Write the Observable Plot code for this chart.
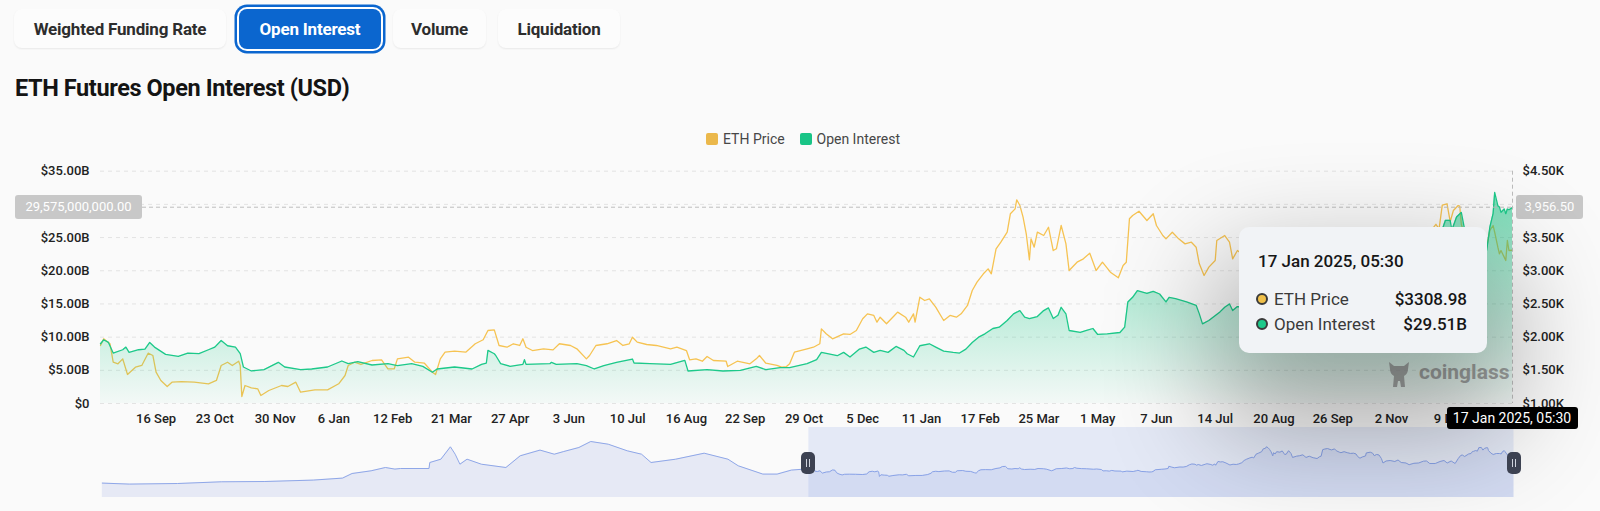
<!DOCTYPE html>
<html>
<head>
<meta charset="utf-8">
<script src="https://cdn.jsdelivr.net/npm/d3@7"></script>
<script src="https://cdn.jsdelivr.net/npm/@observablehq/plot@0.6"></script>
<style>
  html, body { margin:0; padding:0; background:#fafafa; }
  body { width:1600px; height:511px; overflow:hidden; position:relative; font-family: Roboto, "Noto Sans", sans-serif; }
  .tab { position:absolute; top:9px; height:39px; border-radius:8px; background:#fcfcfc; box-shadow:0 1px 2px rgba(0,0,0,0.07); font-weight:700; font-size:17px; letter-spacing:-0.2px; color:#2d2d2d; display:flex; align-items:center; justify-content:center; white-space:nowrap; }
  .tab.active { background:#0b66cf; color:#fff; height:40px; box-shadow:0 0 0 2px #fff, 0 0 0 4.5px #0b66cf; }
  #title { position:absolute; left:15px; top:73px; font-size:23.5px; font-weight:700; color:#141414; letter-spacing:-0.4px; line-height:30px; white-space:nowrap; }
  .legtxt { position:absolute; top:130px; font-size:14px; color:#474747; line-height:18px; white-space:nowrap; }
  .sw { position:absolute; top:133px; width:12px; height:12px; border-radius:2px; }
  #main { position:absolute; left:0; top:140px; }
  #slider { position:absolute; left:0; top:427px; }
  #main svg text { font-weight:500; }
  .crossLabel { position:absolute; height:24px; line-height:24px; background:#c8c8c8; color:#fff; font-size:13px; border-radius:3px; text-align:center; }
  #dateBox { position:absolute; height:22px; line-height:22px; background:#000; color:#fff; font-size:14px; border-radius:3px; text-align:center; white-space:nowrap; }
  #tooltip { position:absolute; left:1239px; top:227px; width:248px; height:126px; background:#f1f3f6; border-radius:10px; box-shadow: 0 55px 110px 25px rgba(0,0,0,0.30); }
  #tooltip .t { position:absolute; white-space:nowrap; font-size:17px; line-height:20px; }
  .dot { position:absolute; width:8px; height:8px; border-radius:50%; border:2px solid #3a3a3a; }
  .handle { position:absolute; top:452px; width:14px; height:22px; border-radius:5px; background:#3d4252; }
  .handle::before, .handle::after { content:""; position:absolute; top:7px; width:1px; height:8px; background:#cfd3dd; }
  .handle::before { left:5px; } .handle::after { left:8px; }
  #wm { position:absolute; left:1386px; top:358px; white-space:nowrap; }
</style>
</head>
<body>
<div class="tab" style="left:14px;width:212px;">Weighted Funding Rate</div>
<div class="tab active" style="left:239px;width:142px;">Open Interest</div>
<div class="tab" style="left:393px;width:93px;">Volume</div>
<div class="tab" style="left:498px;width:122px;">Liquidation</div>
<div id="title">ETH Futures Open Interest (USD)</div>
<div class="sw" style="left:706px;background:#ebb84b;"></div>
<div class="legtxt" style="left:723px;">ETH Price</div>
<div class="sw" style="left:799.5px;background:#19c486;"></div>
<div class="legtxt" style="left:816.5px;">Open Interest</div>
<div id="main"></div>
<div id="slider"></div>
<script>
// ---------- data ----------
const xStart = "2022-08-12";
const xEnd = "2025-01-17T05:30";
const sliderStart = "2020-03-04";
const leftTicks = [0, 5, 10, 15, 20, 25, 30, 35];           // $B
const rightTicks = [1000, 1500, 2000, 2500, 3000, 3500, 4000, 4500]; // $
const xTicks = ["2022-09-16","2022-10-23","2022-11-30","2023-01-06","2023-02-12","2023-03-21","2023-04-27","2023-06-03","2023-07-10","2023-08-16","2023-09-22","2023-10-29","2023-12-05","2024-01-11","2024-02-17","2024-03-25","2024-05-01","2024-06-07","2024-07-14","2024-08-20","2024-09-26","2024-11-02","2024-12-09"];
const crossOI = 29.575;       // $B at crosshair
const crossPrice = 3956.50;   // $ at crosshair

const ethPrice = [["2022-08-12",1874],["2022-08-14",1975],["2022-08-18",1900],["2022-08-20",1622],["2022-08-23",1598],["2022-08-26",1673],["2022-08-29",1437],["2022-09-03",1547],["2022-09-07",1573],["2022-09-11",1758],["2022-09-14",1723],["2022-09-16",1472],["2022-09-19",1347],["2022-09-23",1256],["2022-09-26",1321],["2022-10-02",1331],["2022-10-10",1321],["2022-10-19",1297],["2022-10-24",1347],["2022-10-27",1573],["2022-10-31",1622],["2022-11-03",1573],["2022-11-07",1637],["2022-11-08",1573],["2022-11-09",1105],["2022-11-11",1271],["2022-11-15",1236],["2022-11-19",1221],["2022-11-21",1120],["2022-11-26",1196],["2022-12-04",1271],["2022-12-08",1256],["2022-12-13",1321],["2022-12-16",1170],["2022-12-25",1206],["2023-01-02",1206],["2023-01-09",1297],["2023-01-13",1422],["2023-01-15",1573],["2023-01-19",1622],["2023-01-23",1588],["2023-01-30",1648],["2023-02-05",1658],["2023-02-09",1523],["2023-02-13",1523],["2023-02-15",1673],["2023-02-22",1698],["2023-02-26",1622],["2023-03-04",1607],["2023-03-09",1472],["2023-03-11",1437],["2023-03-14",1673],["2023-03-17",1773],["2023-03-23",1788],["2023-03-30",1773],["2023-04-05",1900],["2023-04-10",1960],["2023-04-13",2100],["2023-04-17",2110],["2023-04-20",1874],["2023-04-25",1848],["2023-04-29",1900],["2023-05-03",1874],["2023-05-05",1975],["2023-05-07",1848],["2023-05-11",1798],["2023-05-18",1824],["2023-05-24",1808],["2023-05-28",1900],["2023-06-04",1874],["2023-06-08",1824],["2023-06-14",1673],["2023-06-16",1723],["2023-06-20",1874],["2023-06-27",1900],["2023-07-03",1949],["2023-07-07",1874],["2023-07-11",1900],["2023-07-13",1999],["2023-07-16",1924],["2023-07-22",1889],["2023-07-28",1874],["2023-08-06",1824],["2023-08-10",1848],["2023-08-16",1798],["2023-08-18",1658],["2023-08-22",1673],["2023-08-26",1637],["2023-08-29",1708],["2023-09-02",1648],["2023-09-10",1637],["2023-09-11",1557],["2023-09-17",1637],["2023-09-25",1598],["2023-09-29",1673],["2023-10-01",1723],["2023-10-05",1607],["2023-10-12",1573],["2023-10-15",1547],["2023-10-18",1557],["2023-10-20",1598],["2023-10-23",1773],["2023-10-31",1824],["2023-11-04",1848],["2023-11-08",1900],["2023-11-09",2125],["2023-11-12",2050],["2023-11-16",1975],["2023-11-23",2050],["2023-11-27",2040],["2023-12-01",2100],["2023-12-05",2276],["2023-12-08",2351],["2023-12-12",2326],["2023-12-14",2225],["2023-12-16",2300],["2023-12-20",2201],["2023-12-25",2326],["2023-12-27",2376],["2024-01-01",2300],["2024-01-03",2225],["2024-01-06",2351],["2024-01-07",2225],["2024-01-10",2602],["2024-01-13",2552],["2024-01-16",2577],["2024-01-20",2451],["2024-01-25",2251],["2024-01-29",2326],["2024-02-02",2300],["2024-02-05",2351],["2024-02-09",2477],["2024-02-12",2703],["2024-02-15",2828],["2024-02-19",2954],["2024-02-22",3029],["2024-02-24",2954],["2024-02-27",3331],["2024-03-01",3430],["2024-03-05",3581],["2024-03-07",3858],["2024-03-10",3933],["2024-03-11",4069],["2024-03-13",3983],["2024-03-15",3807],["2024-03-17",3557],["2024-03-19",3165],["2024-03-20",3481],["2024-03-22",3355],["2024-03-24",3581],["2024-03-28",3531],["2024-03-31",3656],["2024-04-03",3305],["2024-04-05",3331],["2024-04-08",3682],["2024-04-11",3405],["2024-04-13",3004],["2024-04-18",3129],["2024-04-22",3180],["2024-04-26",3265],["2024-04-30",3004],["2024-05-04",3129],["2024-05-09",2978],["2024-05-14",2894],["2024-05-17",3079],["2024-05-19",3129],["2024-05-21",3783],["2024-05-23",3833],["2024-05-27",3897],["2024-06-01",3757],["2024-06-05",3858],["2024-06-07",3682],["2024-06-11",3531],["2024-06-13",3481],["2024-06-17",3581],["2024-06-21",3481],["2024-06-25",3405],["2024-06-29",3430],["2024-07-02",3355],["2024-07-04",3104],["2024-07-07",2929],["2024-07-10",3054],["2024-07-14",3154],["2024-07-15",3456],["2024-07-20",3531],["2024-07-23",3430],["2024-07-25",3180],["2024-07-28",3305],["2024-07-31",3250],["2024-08-03",2900],["2024-08-05",2450],["2024-08-09",2650],["2024-08-14",2700],["2024-08-20",2600],["2024-08-24",2750],["2024-08-28",2500],["2024-09-03",2450],["2024-09-07",2280],["2024-09-13",2420],["2024-09-19",2450],["2024-09-25",2630],["2024-09-29",2650],["2024-10-03",2400],["2024-10-10",2400],["2024-10-16",2600],["2024-10-21",2700],["2024-10-25",2450],["2024-10-30",2650],["2024-11-04",2400],["2024-11-08",2900],["2024-11-11",3200],["2024-11-13",3250],["2024-11-16",3100],["2024-11-21",3350],["2024-11-24",3400],["2024-11-26",3607],["2024-11-27",3607],["2024-11-30",3700],["2024-12-02",3631],["2024-12-04",3990],["2024-12-07",4009],["2024-12-09",3740],["2024-12-11",3908],["2024-12-14",3983],["2024-12-15",3975],["2024-12-16",3700],["2024-12-19",3450],["2024-12-22",3300],["2024-12-26",3400],["2024-12-30",3400],["2025-01-01",3355],["2025-01-03",3607],["2025-01-05",3682],["2025-01-06",3581],["2025-01-08",3355],["2025-01-09",3255],["2025-01-10",3305],["2025-01-12",3205],["2025-01-13",3155],["2025-01-14",3456],["2025-01-15",3305],["2025-01-17T05:30",3308.98]];

const openInterest = [["2022-08-12",9.0],["2022-08-14",9.6],["2022-08-17",9.2],["2022-08-20",7.6],["2022-08-26",8.1],["2022-08-28",8.5],["2022-08-30",7.7],["2022-09-05",8.1],["2022-09-09",8.2],["2022-09-12",9.2],["2022-09-15",8.5],["2022-09-22",7.4],["2022-09-30",7.1],["2022-10-06",7.6],["2022-10-13",7.5],["2022-10-19",8.1],["2022-10-23",8.5],["2022-10-27",9.5],["2022-10-31",8.7],["2022-11-05",8.5],["2022-11-08",7.5],["2022-11-10",5.5],["2022-11-15",4.9],["2022-11-23",5.1],["2022-12-02",6.2],["2022-12-06",5.5],["2022-12-16",5.1],["2022-12-23",5.2],["2023-01-02",5.5],["2023-01-11",6.4],["2023-01-15",6.0],["2023-01-21",6.3],["2023-01-30",5.8],["2023-02-09",6.0],["2023-02-15",5.7],["2023-02-24",6.0],["2023-03-03",5.6],["2023-03-09",4.7],["2023-03-12",5.2],["2023-03-23",5.5],["2023-04-03",5.2],["2023-04-09",5.9],["2023-04-12",6.1],["2023-04-13",8.0],["2023-04-17",7.5],["2023-04-18",7.2],["2023-04-21",6.0],["2023-04-27",5.6],["2023-05-05",5.9],["2023-05-06",6.6],["2023-05-07",5.9],["2023-05-22",6.0],["2023-05-23",6.2],["2023-05-26",5.9],["2023-06-08",6.0],["2023-06-14",5.7],["2023-06-19",5.2],["2023-06-25",5.7],["2023-07-03",6.2],["2023-07-13",6.7],["2023-07-14",6.1],["2023-07-24",6.0],["2023-08-06",5.9],["2023-08-15",6.5],["2023-08-17",4.9],["2023-08-29",5.1],["2023-09-08",4.9],["2023-09-19",5.0],["2023-09-29",5.6],["2023-10-05",5.1],["2023-10-14",5.4],["2023-10-20",5.4],["2023-10-31",6.0],["2023-11-06",6.6],["2023-11-09",7.7],["2023-11-19",7.2],["2023-11-23",7.7],["2023-11-27",7.0],["2023-12-03",8.2],["2023-12-07",8.5],["2023-12-12",7.7],["2023-12-16",8.0],["2023-12-21",7.7],["2023-12-26",8.6],["2023-12-31",8.0],["2024-01-02",7.5],["2024-01-06",7.0],["2024-01-10",8.7],["2024-01-16",9.0],["2024-01-20",8.5],["2024-01-25",7.9],["2024-01-31",7.7],["2024-02-04",7.6],["2024-02-08",8.2],["2024-02-12",9.2],["2024-02-16",10.0],["2024-02-20",10.5],["2024-02-25",11.3],["2024-02-29",11.5],["2024-03-05",12.5],["2024-03-09",13.5],["2024-03-13",14.0],["2024-03-16",13.0],["2024-03-19",12.8],["2024-03-24",13.1],["2024-03-28",14.0],["2024-03-31",14.4],["2024-04-03",12.8],["2024-04-06",13.3],["2024-04-08",14.5],["2024-04-11",13.5],["2024-04-13",11.0],["2024-04-20",10.7],["2024-04-24",11.0],["2024-04-28",11.3],["2024-05-01",10.4],["2024-05-07",10.5],["2024-05-15",10.7],["2024-05-18",11.5],["2024-05-20",15.3],["2024-05-23",16.0],["2024-05-26",17.0],["2024-06-01",16.6],["2024-06-05",16.9],["2024-06-09",16.5],["2024-06-13",15.3],["2024-06-15",16.0],["2024-06-19",15.8],["2024-06-26",15.3],["2024-07-02",14.8],["2024-07-04",13.5],["2024-07-06",12.0],["2024-07-10",12.5],["2024-07-17",13.8],["2024-07-20",14.5],["2024-07-23",15.0],["2024-07-25",14.0],["2024-07-28",14.6],["2024-07-31",14.5],["2024-08-05",11.5],["2024-08-10",12.5],["2024-08-20",12.8],["2024-08-25",13.5],["2024-09-05",12.5],["2024-09-15",13.0],["2024-09-25",14.5],["2024-10-05",13.5],["2024-10-15",15.0],["2024-10-25",15.5],["2024-11-05",15.5],["2024-11-10",19.0],["2024-11-15",20.5],["2024-11-22",22.0],["2024-11-28",24.0],["2024-12-03",25.5],["2024-12-06",27.6],["2024-12-09",27.6],["2024-12-10",26.1],["2024-12-13",28.1],["2024-12-16",28.8],["2024-12-18",26.3],["2024-12-20",24.5],["2024-12-23",23.5],["2024-12-27",23.0],["2024-12-30",22.8],["2025-01-01",23.1],["2025-01-03",26.6],["2025-01-05",28.6],["2025-01-06",31.8],["2025-01-08",29.8],["2025-01-09",29.6],["2025-01-10",28.8],["2025-01-12",29.3],["2025-01-13",28.6],["2025-01-14",29.3],["2025-01-15",29.2],["2025-01-17T05:30",29.51]];

// ETH price history shown in the range slider before the selected window
const sliderHistory = [["2020-03-04",440],["2020-04-07",340],["2020-06-07",400],["2020-08-01",570],["2020-09-25",600],["2020-11-25",740],["2021-01-01",940],["2021-01-13",1400],["2021-02-06",1670],["2021-02-24",2000],["2021-03-08",1840],["2021-03-15",1900],["2021-04-20",1900],["2021-04-21",2500],["2021-05-05",2830],["2021-05-17",4070],["2021-05-23",3330],["2021-05-29",2330],["2021-06-07",2830],["2021-06-25",2330],["2021-07-26",2000],["2021-08-13",3170],["2021-09-07",3740],["2021-09-25",3330],["2021-10-07",3600],["2021-10-26",4000],["2021-11-10",4600],["2021-12-02",4330],["2021-12-26",3670],["2022-01-13",3330],["2022-01-25",2500],["2022-02-25",2830],["2022-04-02",3430],["2022-05-02",2830],["2022-05-15",2170],["2022-06-15",1340],["2022-07-03",1340],["2022-07-21",1740]];

// ---------- helpers ----------
const parseT = s => new Date(s.length > 10 ? s + ":00Z" : s + "T00:00:00Z");
const oiMax = 35, pMin = 1000, pMax = 4500;
const toLeft = p => (p - pMin) / (pMax - pMin) * oiMax;
const fromLeft = v => pMin + v / oiMax * (pMax - pMin);
const price = ethPrice.map(([d, v]) => ({date: parseT(d), v}));
const oi = openInterest.map(([d, v]) => ({date: parseT(d), v}));
// tick labels hidden by the crosshair value labels in the picture
const leftLabelTicks = leftTicks.filter(v => Math.abs(v - crossOI) > 2);
const rightLabelTicks = rightTicks.filter(p => Math.abs(p - crossPrice) > 200);

const H = 290, mt = 30.7, mb = 27, ml = 100, mr = 88, TOP = 140;
const gradDefs = () => {
  const ns = "http://www.w3.org/2000/svg";
  const defs = document.createElementNS(ns, "defs");
  defs.innerHTML = `<linearGradient id="oiGrad" gradientUnits="userSpaceOnUse" x1="0" x2="0" y1="${mt}" y2="${H - mb}">
    <stop offset="0" stop-color="#16c784" stop-opacity="0.62"/>
    <stop offset="1" stop-color="#16c784" stop-opacity="0.03"/></linearGradient>`;
  return defs;
};

const chart = Plot.plot({
  width: 1600, height: H, marginTop: mt, marginBottom: mb, marginLeft: ml, marginRight: mr,
  style: {background: "transparent", fontFamily: "Roboto, sans-serif", fontSize: "13px", color: "#222", overflow: "visible"},
  x: {type: "utc", domain: [parseT(xStart), parseT(xEnd)]},
  y: {domain: [0, oiMax]},
  marks: [
    gradDefs,
    Plot.ruleY(leftTicks, {stroke: "#e3e3e3", strokeDasharray: "4,4"}),
    Plot.lineY(price, {x: "date", y: d => toLeft(d.v), stroke: "#f6c352", strokeWidth: 1.3}),
    Plot.areaY(oi, {x: "date", y: "v", fill: "url(#oiGrad)"}),
    Plot.lineY(oi, {x: "date", y: "v", stroke: "#1dc98a", strokeWidth: 1.3}),
    Plot.ruleY([crossOI], {stroke: "#bdbdbd", strokeDasharray: "4,3"}),
    Plot.ruleX([parseT(xEnd)], {stroke: "#bdbdbd", strokeDasharray: "4,3"}),
    Plot.axisY({ticks: leftLabelTicks, tickSize: 0, tickPadding: 11, label: null,
      tickFormat: v => v === 0 ? "$0" : "$" + v.toFixed(2) + "B"}),
    Plot.axisY({anchor: "right", ticks: rightLabelTicks.map(toLeft), tickSize: 0, tickPadding: 10, label: null,
      tickFormat: v => "$" + (fromLeft(v) / 1000).toFixed(2) + "K"}),
    Plot.axisX({ticks: xTicks.map(parseT), tickSize: 0, tickPadding: 10, label: null,
      tickFormat: d3.utcFormat("%-d %b")})
  ]
});
document.getElementById("main").appendChild(chart);

const sliderData = sliderHistory.concat(ethPrice).map(([d, v]) => ({date: parseT(d), v}));
const sl = Plot.plot({
  width: 1600, height: 70, marginTop: 0, marginBottom: 0, marginLeft: 101.8, marginRight: 86.5,
  style: {background: "transparent"},
  x: {type: "utc", domain: [parseT(sliderStart), parseT(xEnd)], axis: null},
  y: {domain: [-1000, 6000], axis: null},
  marks: [
    Plot.areaY(sliderData, {x: "date", y1: () => -1000, y2: "v", fill: "#e6e9f5"}),
    Plot.lineY(sliderData, {x: "date", y: "v", stroke: "#8fa7e8", strokeWidth: 1}),
    Plot.rect([{a: parseT(xStart), b: parseT(xEnd), lo: -1000, hi: 6000}],
      {x1: "a", x2: "b", y1: "lo", y2: "hi", fill: "#6b8de6", fillOpacity: 0.15})
  ]
});
document.getElementById("slider").appendChild(sl);

// ---------- overlays positioned with the plot scales ----------
const xs = chart.scale("x"), ys = chart.scale("y");
const crossY = TOP + ys.apply(crossOI);
const crossX = xs.apply(parseT(xEnd));
const add = (html) => { const t = document.createElement("template"); t.innerHTML = html.trim(); const el = t.content.firstChild; document.body.appendChild(el); return el; };

add(`<div class="crossLabel" style="left:15px;width:127px;top:${crossY - 12}px;">${d3.format(",.2f")(crossOI * 1e9)}</div>`);
add(`<div class="crossLabel" style="left:1516px;width:67px;top:${crossY - 12}px;">${d3.format(",.2f")(crossPrice)}</div>`);

// watermark
add(`<div id="wm"><svg width="26" height="30" viewBox="0 0 26 30" style="position:absolute;left:0;top:1px;">
  <g fill="#8d8d8d" opacity="0.75">
    <path d="M3 3 L8 7 L18 7 L23 3 L22 10 Q22 15 18 17 L19 28 L15 28 L14 22 L12 22 L11 28 L7 28 L8 17 Q4 15 4 10 Z"/>
  </g></svg>
  <span style="position:absolute;left:33px;top:2px;font-size:21px;font-weight:700;color:#8f8f8f;opacity:0.8;">coinglass</span></div>`);

// tooltip
const lastP = ethPrice[ethPrice.length - 1], lastO = openInterest[openInterest.length - 1];
const fmtT = d3.utcFormat("%-d %b %Y, %H:%M");
add(`<div id="tooltip">
  <div class="t" style="left:19px;top:24px;font-weight:500;color:#161616;">${fmtT(parseT(lastP[0]))}</div>
  <div class="dot" style="left:17px;top:66px;background:#f0c04a;"></div>
  <div class="t" style="left:35px;top:62px;color:#3a3a3a;">ETH Price</div>
  <div class="t" style="right:20px;top:62px;font-weight:500;color:#161616;">$${lastP[1].toFixed(2)}</div>
  <div class="dot" style="left:17px;top:91px;background:#1dc98a;"></div>
  <div class="t" style="left:35px;top:87px;color:#3a3a3a;">Open Interest</div>
  <div class="t" style="right:20px;top:87px;font-weight:500;color:#161616;">$${lastO[1].toFixed(2)}B</div>
</div>`);

add(`<div id="dateBox" style="left:${crossX - 65.5}px;width:131px;top:407px;">${fmtT(parseT(xEnd))}</div>`);

// slider handles
const sx = sl.scale("x");
[xStart, xEnd].forEach(d => add(`<div class="handle" style="left:${sx.apply(parseT(d)) - 7}px;"></div>`));
</script>
</body>
</html>
